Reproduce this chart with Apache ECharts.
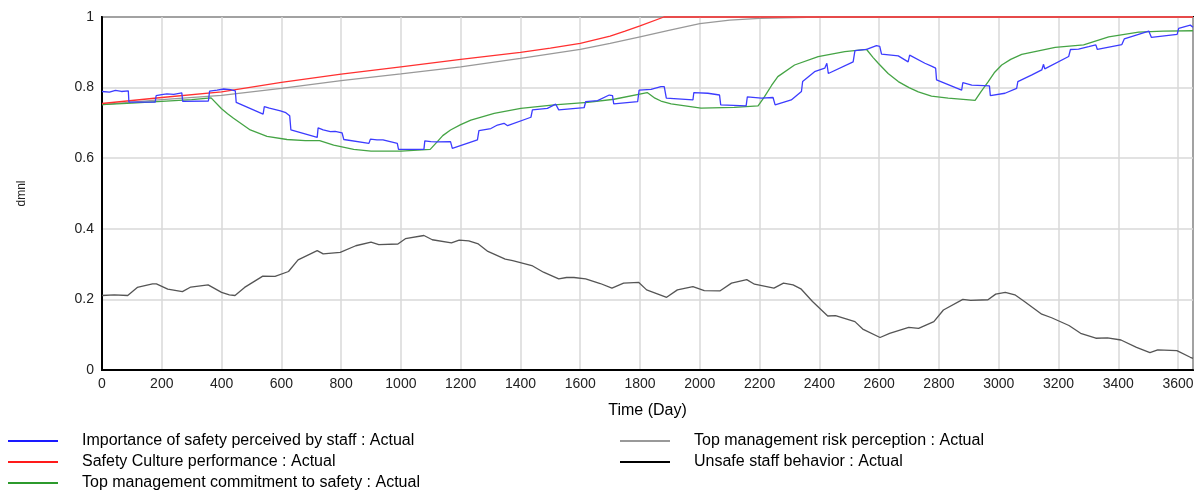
<!DOCTYPE html>
<html>
<head>
<meta charset="utf-8">
<script src="https://cdn.jsdelivr.net/npm/echarts@6/dist/echarts.min.js"></script>
<style>
 html, body { margin: 0; padding: 0; background: #fff; }
 #chart { width: 1204px; height: 491px; }
</style>
</head>
<body>
<div id="chart"></div>
<script>
 // series names (legend order)
 var seriesNames = [
   'Importance of safety perceived by staff : Actual',
   'Safety Culture performance : Actual',
   'Top management commitment to safety : Actual',
   'Top management risk perception : Actual',
   'Unsafe staff behavior : Actual'
 ];

 // [day, value]
 var perceivedImportance = [
   [0,0.789],[25,0.787],[45,0.792],[65,0.789],[88,0.791],[90,0.759],[178,0.759],[181,0.777],[200,0.780],
   [217,0.782],[240,0.781],[267,0.785],[270,0.761],[356,0.762],[360,0.790],[385,0.793],[407,0.796],
   [430,0.794],[446,0.791],[449,0.758],[539,0.725],[543,0.746],[560,0.742],[597,0.734],[615,0.729],
   [628,0.720],[632,0.680],[720,0.659],[723,0.686],[740,0.680],[764,0.675],[780,0.676],[803,0.672],
   [809,0.653],[893,0.642],[898,0.654],[920,0.652],[940,0.652],[988,0.642],[992,0.625],[1077,0.625],
   [1080,0.649],[1100,0.647],[1122,0.646],[1166,0.647],[1172,0.628],[1256,0.652],[1261,0.678],
   [1301,0.684],[1323,0.694],[1345,0.699],[1357,0.692],[1435,0.716],[1440,0.737],[1490,0.741],
   [1518,0.753],[1528,0.737],[1613,0.743],[1618,0.760],[1658,0.763],[1697,0.779],[1708,0.777],
   [1712,0.754],[1792,0.760],[1797,0.793],[1837,0.795],[1870,0.803],[1881,0.803],[1888,0.770],
   [1977,0.765],[1980,0.786],[2027,0.784],[2066,0.779],[2070,0.751],[2155,0.748],[2159,0.774],
   [2206,0.770],[2245,0.772],[2252,0.751],[2306,0.765],[2340,0.789],[2344,0.817],[2384,0.845],
   [2418,0.855],[2425,0.869],[2430,0.840],[2513,0.873],[2519,0.905],[2558,0.908],[2591,0.919],
   [2602,0.917],[2608,0.895],[2664,0.890],[2697,0.873],[2702,0.892],[2753,0.869],[2775,0.861],
   [2789,0.855],[2792,0.822],[2876,0.793],[2880,0.814],[2910,0.807],[2969,0.805],[2972,0.777],
   [3021,0.784],[3060,0.798],[3064,0.817],[3111,0.836],[3144,0.850],[3150,0.866],[3154,0.853],
   [3234,0.888],[3240,0.908],[3267,0.909],[3301,0.916],[3325,0.921],[3330,0.908],[3412,0.922],
   [3420,0.938],[3468,0.951],[3502,0.960],[3507,0.962],[3511,0.942],[3597,0.951],[3602,0.968],
   [3641,0.977],[3650,0.971]
 ];
 var cultureScore = [
   [0,0.755],[200,0.772],[400,0.788],[600,0.815],[800,0.838],[1000,0.859],[1200,0.880],[1400,0.900],
   [1500,0.912],[1600,0.925],[1700,0.946],[1750,0.960],[1800,0.975],[1880,1.0],[3650,1.0]
 ];
 var mgmtCommitment = [
   [0,0.752],[100,0.756],[200,0.761],[300,0.766],[365,0.771],[400,0.740],[420,0.726],[440,0.713],
   [496,0.680],[552,0.662],[619,0.653],[680,0.650],[728,0.650],[775,0.637],[842,0.625],[900,0.620],
   [1000,0.620],[1098,0.625],[1122,0.647],[1140,0.664],[1166,0.680],[1200,0.695],[1234,0.708],
   [1312,0.727],[1401,0.741],[1513,0.751],[1625,0.758],[1713,0.767],[1824,0.786],[1850,0.770],
   [1870,0.762],[1904,0.754],[2004,0.742],[2115,0.744],[2195,0.748],[2216,0.774],[2240,0.806],
   [2261,0.831],[2317,0.864],[2396,0.888],[2485,0.902],[2558,0.908],[2580,0.885],[2597,0.869],
   [2630,0.840],[2664,0.817],[2700,0.800],[2731,0.788],[2775,0.776],[2831,0.770],[2921,0.764],
   [2942,0.790],[2965,0.817],[2985,0.842],[3010,0.864],[3040,0.880],[3077,0.894],[3189,0.914],
   [3284,0.921],[3368,0.944],[3468,0.957],[3550,0.960],[3650,0.961]
 ];
 var riskPerception = [
   [0,0.752],[200,0.766],[400,0.778],[600,0.798],[800,0.820],[1000,0.839],[1200,0.859],[1400,0.883],
   [1600,0.908],[1700,0.925],[1800,0.944],[1900,0.963],[2000,0.981],[2100,0.991],[2200,0.996],
   [2400,1.0],[3650,1.0]
 ];
 var unsafeBehavior = [
   [0,0.211],[41,0.213],[86,0.211],[118,0.234],[169,0.244],[182,0.244],[220,0.229],[269,0.222],
   [297,0.235],[355,0.241],[400,0.220],[426,0.213],[445,0.211],[477,0.234],[538,0.266],[579,0.265],
   [624,0.279],[656,0.312],[720,0.338],[740,0.329],[797,0.333],[849,0.352],[900,0.362],[926,0.355],
   [990,0.357],[1015,0.372],[1077,0.381],[1105,0.369],[1169,0.360],[1195,0.368],[1227,0.366],
   [1259,0.357],[1291,0.336],[1349,0.314],[1374,0.310],[1438,0.296],[1477,0.277],[1528,0.258],
   [1554,0.262],[1579,0.262],[1618,0.258],[1667,0.245],[1706,0.232],[1745,0.246],[1796,0.248],
   [1822,0.227],[1889,0.206],[1925,0.227],[1977,0.236],[2015,0.225],[2067,0.224],[2106,0.246],
   [2157,0.256],[2183,0.243],[2248,0.232],[2280,0.246],[2312,0.241],[2338,0.230],[2377,0.194],
   [2428,0.153],[2454,0.154],[2519,0.137],[2545,0.116],[2603,0.092],[2635,0.104],[2699,0.121],
   [2732,0.118],[2783,0.137],[2815,0.170],[2880,0.200],[2906,0.197],[2964,0.199],[2990,0.215],
   [3022,0.220],[3054,0.213],[3086,0.194],[3144,0.158],[3177,0.148],[3235,0.126],[3274,0.104],
   [3325,0.090],[3364,0.091],[3409,0.085],[3461,0.064],[3506,0.049],[3532,0.057],[3596,0.055],
   [3641,0.036],[3650,0.033]
 ];

 var lineW = 1.3;
 var legendText = { fontFamily: 'Liberation Sans', fontSize: 16, color: '#000', padding: [0, 0, 0, 19] };

 // one legend per row so nothing wraps
 function legendRow(name, left, top) {
   return {
     left: left, top: top, padding: 0, itemWidth: 50, itemHeight: 2, icon: 'rect',
     data: [name], textStyle: legendText
   };
 }

 var option = {
   animation: false,
   backgroundColor: '#fff',
   grid: { left: 102, right: 11, top: 17, bottom: 121, show: true, borderColor: '#000', borderWidth: 2 },
   legend: [
     legendRow(seriesNames[0], 8, 433),
     legendRow(seriesNames[1], 8, 454),
     legendRow(seriesNames[2], 8, 475),
     legendRow(seriesNames[3], 620, 433),
     legendRow(seriesNames[4], 620, 454)
   ],
   xAxis: {
     type: 'value', min: 0, max: 3650, interval: 200,
     name: 'Time (Day)', nameLocation: 'middle', nameGap: 33,
     nameTextStyle: { fontFamily: 'Liberation Sans', fontSize: 16, color: '#000' },
     axisLine: { lineStyle: { color: '#000', width: 2 } },
     axisTick: { show: false },
     axisLabel: {
       fontFamily: 'Liberation Sans', fontSize: 14, color: '#222', margin: 7, showMaxLabel: false,
       formatter: function (v) { return v % 200 === 0 ? v : ''; }
     },
     splitLine: { lineStyle: { color: '#d8d8d8', width: 1.5 } }
   },
   yAxis: {
     type: 'value', min: 0, max: 1, interval: 0.2,
     name: 'dmnl', nameLocation: 'middle', nameGap: 74,
     nameTextStyle: { fontFamily: 'Liberation Sans', fontSize: 12, color: '#222' },
     axisLine: { lineStyle: { color: '#000', width: 2 } },
     axisTick: { show: false },
     axisLabel: {
       fontFamily: 'Liberation Sans', fontSize: 14, color: '#222', margin: 8,
       formatter: function (v) { return String(+v.toFixed(1)); }
     },
     splitLine: { lineStyle: { color: '#d8d8d8', width: 1.5 } }
   },
   series: [
     { name: seriesNames[3], type: 'line', data: riskPerception, showSymbol: false, clip: false,
       itemStyle: { color: '#999' }, lineStyle: { color: '#999', width: lineW } },
     { name: seriesNames[4], type: 'line', data: unsafeBehavior, showSymbol: false, clip: false,
       itemStyle: { color: '#000' }, lineStyle: { color: '#555', width: lineW } },
     { name: seriesNames[2], type: 'line', data: mgmtCommitment, showSymbol: false, clip: false,
       itemStyle: { color: '#2c9a2c' }, lineStyle: { color: '#45a445', width: lineW } },
     { name: seriesNames[1], type: 'line', data: cultureScore, showSymbol: false, clip: false,
       itemStyle: { color: '#ff1a1a' }, lineStyle: { color: '#ff3030', width: lineW } },
     { name: seriesNames[0], type: 'line', data: perceivedImportance, showSymbol: false, clip: false,
       itemStyle: { color: '#1a1aff' }, lineStyle: { color: '#3c3cff', width: lineW } }
   ]
 };

 var myChart = echarts.init(document.getElementById('chart'));
 myChart.setOption(option);
</script>
</body>
</html>
